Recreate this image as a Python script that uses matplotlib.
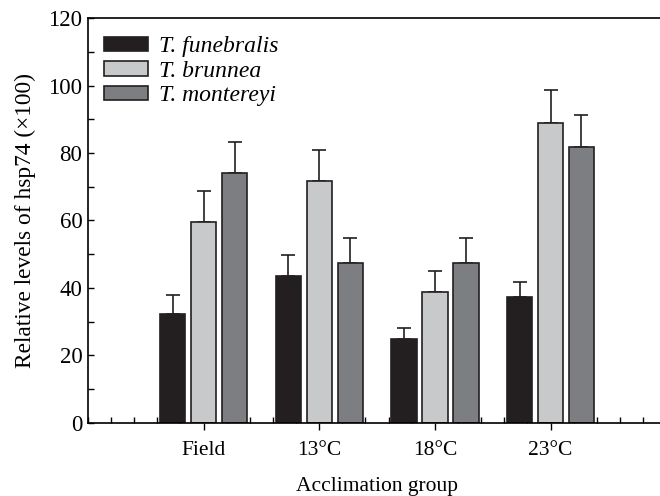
import matplotlib.pyplot as plt
from matplotlib.patches import Patch
from matplotlib.ticker import MultipleLocator
import numpy as np

plt.rcParams['font.family'] = ['Liberation Serif', 'DejaVu Serif']

groups = ['Field', '13°C', '18°C', '23°C']
species = ['T. funebralis', 'T. brunnea', 'T. montereyi']
colors = ['#231f20', '#c8c9cb', '#7d7e82']

funebralis = [32.2, 43.6, 24.8, 37.4]
funebralis_err = [5.6, 6.2, 3.3, 4.5]
brunnea = [59.6, 71.8, 38.9, 88.8]
brunnea_err = [9.1, 9.1, 6.2, 9.9]
montereyi = [74.2, 47.3, 47.3, 81.9]
montereyi_err = [9.0, 7.4, 7.4, 9.4]

values = [funebralis, brunnea, montereyi]
errors = [funebralis_err, brunnea_err, montereyi_err]

fig = plt.figure(figsize=(6.6, 4.96), dpi=100)
ax = fig.add_axes([0.1333, 0.1472, 0.876, 0.8165])

x = np.arange(1, len(groups) + 1)
width = 0.22
step = 0.268
for i, (vals, errs, c) in enumerate(zip(values, errors, colors)):
    pos = x + (i - 1) * step
    ax.bar(pos, vals, width, color=c, edgecolor='#231f20', linewidth=1.2, zorder=2)
    ax.errorbar(pos, vals, yerr=[np.zeros(len(errs)), errs], fmt='none',
                ecolor='#231f20', elinewidth=1.2, capsize=4.7, capthick=1.2, zorder=1)

ax.set_xlim(0, 5)
ax.set_ylim(0, 120)
ax.set_xticks(x)
ax.set_xticklabels(groups, fontsize=15.5)
ax.xaxis.set_minor_locator(MultipleLocator(0.2))
ax.yaxis.set_major_locator(MultipleLocator(20))
ax.yaxis.set_minor_locator(MultipleLocator(10))
ax.tick_params(axis='x', which='major', direction='out', length=5, width=1, pad=8)
ax.tick_params(axis='x', which='minor', direction='in', length=4, width=1)
ax.tick_params(axis='y', which='both', direction='in', length=4, width=1, labelsize=16.5, pad=4)
for s in ax.spines.values():
    s.set_linewidth(1.2)
ax.spines['right'].set_visible(False)

ax.set_xlabel('Acclimation group', fontsize=15.5, labelpad=12)
ax.set_ylabel('Relative levels of hsp74 (×100)', fontsize=16.8, labelpad=9)

handles = [Patch(facecolor=c, edgecolor='#231f20', linewidth=1.2) for c in colors]
ax.legend(handles, species, loc='upper left', bbox_to_anchor=(0.028, 0.955),
          frameon=False, prop={'style': 'italic', 'size': 17},
          handlelength=1.86, handleheight=0.55, labelspacing=0.15,
          handletextpad=0.47, borderaxespad=0, borderpad=0)

fig.savefig('out.png', dpi=100)
